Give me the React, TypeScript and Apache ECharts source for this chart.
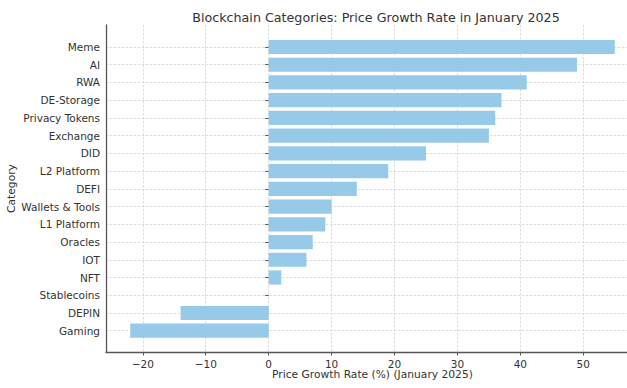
import React, { useEffect, useRef } from "react";
import * as echarts from "echarts";

const categories = [
  "Meme", "AI", "RWA", "DE-Storage", "Privacy Tokens", "Exchange", "DID",
  "L2 Platform", "DEFI", "Wallets & Tools", "L1 Platform", "Oracles", "IOT",
  "NFT", "Stablecoins", "DEPIN", "Gaming",
];
const growth = [55, 49, 41, 37, 36, 35, 25, 19, 14, 10, 9, 7, 6, 2, 0, -14, -22];
const xTicks = [-20, -10, 0, 10, 20, 30, 40, 50];

const X_MIN = -25.85;
const X_MAX = 58.85;
const FONT = "DejaVu Sans";

export default function App() {
  const ref = useRef<HTMLDivElement>(null);
  useEffect(() => {
    if (!ref.current) return;
    const chart = echarts.init(ref.current, null, { renderer: "svg" });
    const left = 106;
    const width = 533;
    chart.setOption({
      animation: false,
      backgroundColor: "#ffffff",
      textStyle: { fontFamily: FONT },
      title: {
        text: "Blockchain Categories: Price Growth Rate in January 2025",
        left: 371,
        textAlign: "center",
        top: 6,
        textStyle: { fontFamily: FONT, fontSize: 12.7, fontWeight: "normal", color: "#333333" },
      },
      grid: [
        { left, width, top: 25, height: 327, containLabel: false, outerBoundsMode: "none" },
        { left, width, top: 47, height: 283.7, containLabel: false, outerBoundsMode: "none" },
      ],
      xAxis: [
        {
          gridIndex: 0,
          type: "value",
          min: X_MIN,
          max: X_MAX,
          name: "Price Growth Rate (%) (January 2025)",
          nameLocation: "middle",
          nameGap: 17,
          nameMoveOverlap: false,
          nameTextStyle: { fontFamily: FONT, fontSize: 10.7, color: "#333333" },
          axisLine: { show: true, lineStyle: { color: "#555555", width: 1.3 } },
          axisTick: { show: true, length: 3.5, inside: false, customValues: xTicks, lineStyle: { color: "#555555" } },
          axisLabel: {
            customValues: xTicks,
            fontFamily: FONT,
            fontSize: 10.5,
            color: "#333333",
            margin: 6,
            formatter: (v: number) => String(v).replace("-", "\u2212"),
          },
          splitLine: { show: true, lineStyle: { color: "#d4d4d4", type: [2.5, 1.5], width: 0.8 } },
        },
        {
          gridIndex: 1,
          type: "value",
          min: X_MIN,
          max: X_MAX,
          show: false,
          splitLine: { show: false },
        },
      ],
      yAxis: [
        {
          gridIndex: 0,
          type: "value",
          min: 0,
          max: 1,
          axisLine: { show: true, onZero: false, lineStyle: { color: "#555555", width: 1.3 } },
          axisTick: { show: false },
          axisLabel: { show: false },
          splitLine: { show: false },
          name: "Category",
          nameLocation: "middle",
          nameRotate: 90,
          nameGap: 89,
          nameMoveOverlap: false,
          nameTextStyle: { fontFamily: FONT, fontSize: 10.7, color: "#333333" },
        },
        {
          gridIndex: 1,
          type: "category",
          data: categories,
          inverse: true,
          boundaryGap: false,
          axisLine: { show: false },
          axisTick: { show: true, length: 3.5, lineStyle: { color: "#555555" } },
          axisLabel: { fontFamily: FONT, fontSize: 10.5, color: "#333333", margin: 6 },
          splitLine: { show: true, lineStyle: { color: "#d4d4d4", type: [2.5, 1.5], width: 0.8 } },
        },
      ],
      series: [
        {
          type: "bar",
          xAxisIndex: 1,
          yAxisIndex: 1,
          data: growth,
          barWidth: "80%",
          itemStyle: { color: "#96cae8", borderWidth: 0 },
        },
      ],
    });
    return () => chart.dispose();
  }, []);
  return <div ref={ref} style={{ width: 627, height: 388, position: "absolute", left: 0, top: 0 }} />;
}
